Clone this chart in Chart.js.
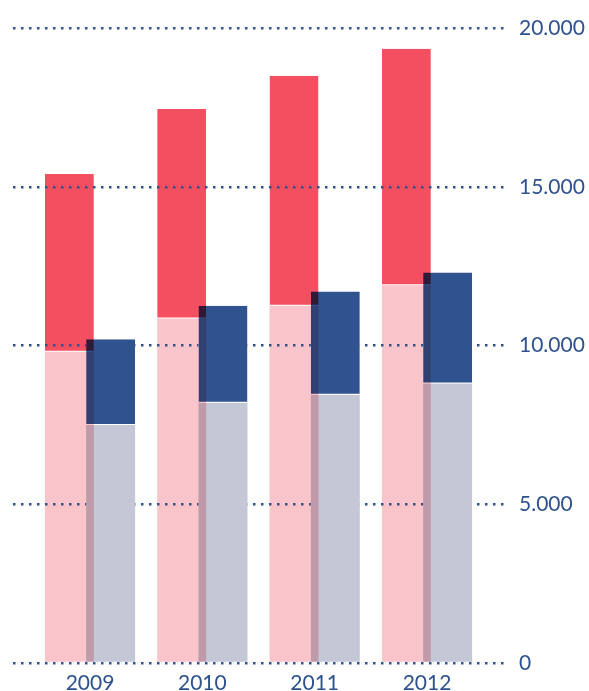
<!DOCTYPE html>
<html>
<head>
<meta charset="utf-8">
<script src="https://cdn.jsdelivr.net/npm/chart.js@4/dist/chart.umd.min.js"></script>
<style>
    body { margin: 0; background: #ffffff; }
</style>
</head>
<body>
<canvas id="chartBars" width="589" height="691"></canvas>
<script>
const years = [2009, 2010, 2011, 2012];
const redLower = [9800, 10850, 11250, 11900];
const redTotal = [15400, 17450, 18500, 19350];
const blueLower = [7500, 8200, 8450, 8800];
const blueTotal = [10200, 11250, 11700, 12300];
const yTicks = [0, 5000, 10000, 15000, 20000];

const textColor = "#2f528f";

function points(lower, upper) {
    return years.map((year, i) => ({x: year, y: upper ? [lower[i], upper[i]] : lower[i]}));
}

// red bars are multiplied over the blue ones, the dotted grid sits above red but not blue
const overlapPlugin = {
    id: "overlap",
    beforeDatasetDraw(chart, args) {
        if (chart.data.datasets[args.index].stack === "red") {
            chart.ctx.save();
            chart.ctx.globalCompositeOperation = "multiply";
        }
    },
    afterDatasetDraw(chart, args) {
        if (chart.data.datasets[args.index].stack === "red") {
            chart.ctx.restore();
        }
    },
    afterDatasetsDraw(chart) {
        let ctx = chart.ctx;
        ctx.save();
        ctx.beginPath();
        ctx.rect(0, 0, chart.width, chart.height);
        chart.data.datasets.forEach((ds, i) => {
            if (ds.stack !== "blue") return;
            chart.getDatasetMeta(i).data.forEach(bar => {
                let top = Math.min(bar.y, bar.base);
                let bottom = Math.max(bar.y, bar.base);
                ctx.rect(bar.x - bar.width / 2, top, bar.width, bottom - top - 2);
            });
        });
        ctx.clip("evenodd");
    },
    afterDraw(chart) {
        chart.ctx.restore();
    }
};

const barStyle = {
    categoryPercentage: 0.735,
    barPercentage: 1.186,
    borderSkipped: false
};

new Chart(document.getElementById("chartBars"), {
    type: "bar",
    data: {
        datasets: [{
            ...barStyle,
            data: points(redLower, redTotal),
            backgroundColor: "#f34f61",
            borderColor: "#ffffff",
            borderWidth: {top: 0, left: 0, right: 0, bottom: 1},
            stack: "red"
        },{
            ...barStyle,
            data: points(redLower),
            backgroundColor: "#f9c5ca",
            borderWidth: 0,
            stack: "red"
        },{
            ...barStyle,
            data: points(blueLower, blueTotal),
            backgroundColor: "#30528f",
            borderColor: "#ffffff",
            borderWidth: {top: 0, left: 0, right: 0, bottom: 1},
            stack: "blue"
        },{
            ...barStyle,
            data: points(blueLower),
            backgroundColor: "#c4c7d6",
            borderWidth: 0,
            stack: "blue"
        }]
    },
    options: {
        responsive: false,
        animation: false,
        layout: {padding: {left: 13, top: 28, right: 0, bottom: 0}},
        plugins: {
            legend: {display: false},
            tooltip: {enabled: false}
        },
        scales: {
            x: {
                type: "linear",
                position: "bottom",
                offset: false,
                min: 2008.3145,
                max: 2012.6855,
                grid: {display: false, drawTicks: false},
                border: {display: false},
                ticks: {
                    stepSize: 1,
                    includeBounds: false,
                    padding: 8,
                    color: textColor,
                    font: {family: "Lato", size: 21},
                    callback: v => years.includes(v) ? String(v) : ""
                },
                afterFit: scale => { scale.height = 28; }
            },
            y: {
                position: "right",
                stacked: false,
                min: 0,
                max: 20000,
                afterBuildTicks: scale => { scale.ticks = yTicks.map(v => ({value: v})); },
                grid: {
                    z: 1,
                    color: textColor,
                    lineWidth: 2.5,
                    drawTicks: false
                },
                border: {display: false, dash: [2.5, 5.5]},
                ticks: {
                    padding: 15,
                    color: textColor,
                    font: {family: "Lato", size: 21},
                    callback: v => v.toLocaleString("de-DE")
                },
                afterFit: scale => { scale.width = 85; }
            }
        }
    },
    plugins: [overlapPlugin]
});
</script>
</body>
</html>
